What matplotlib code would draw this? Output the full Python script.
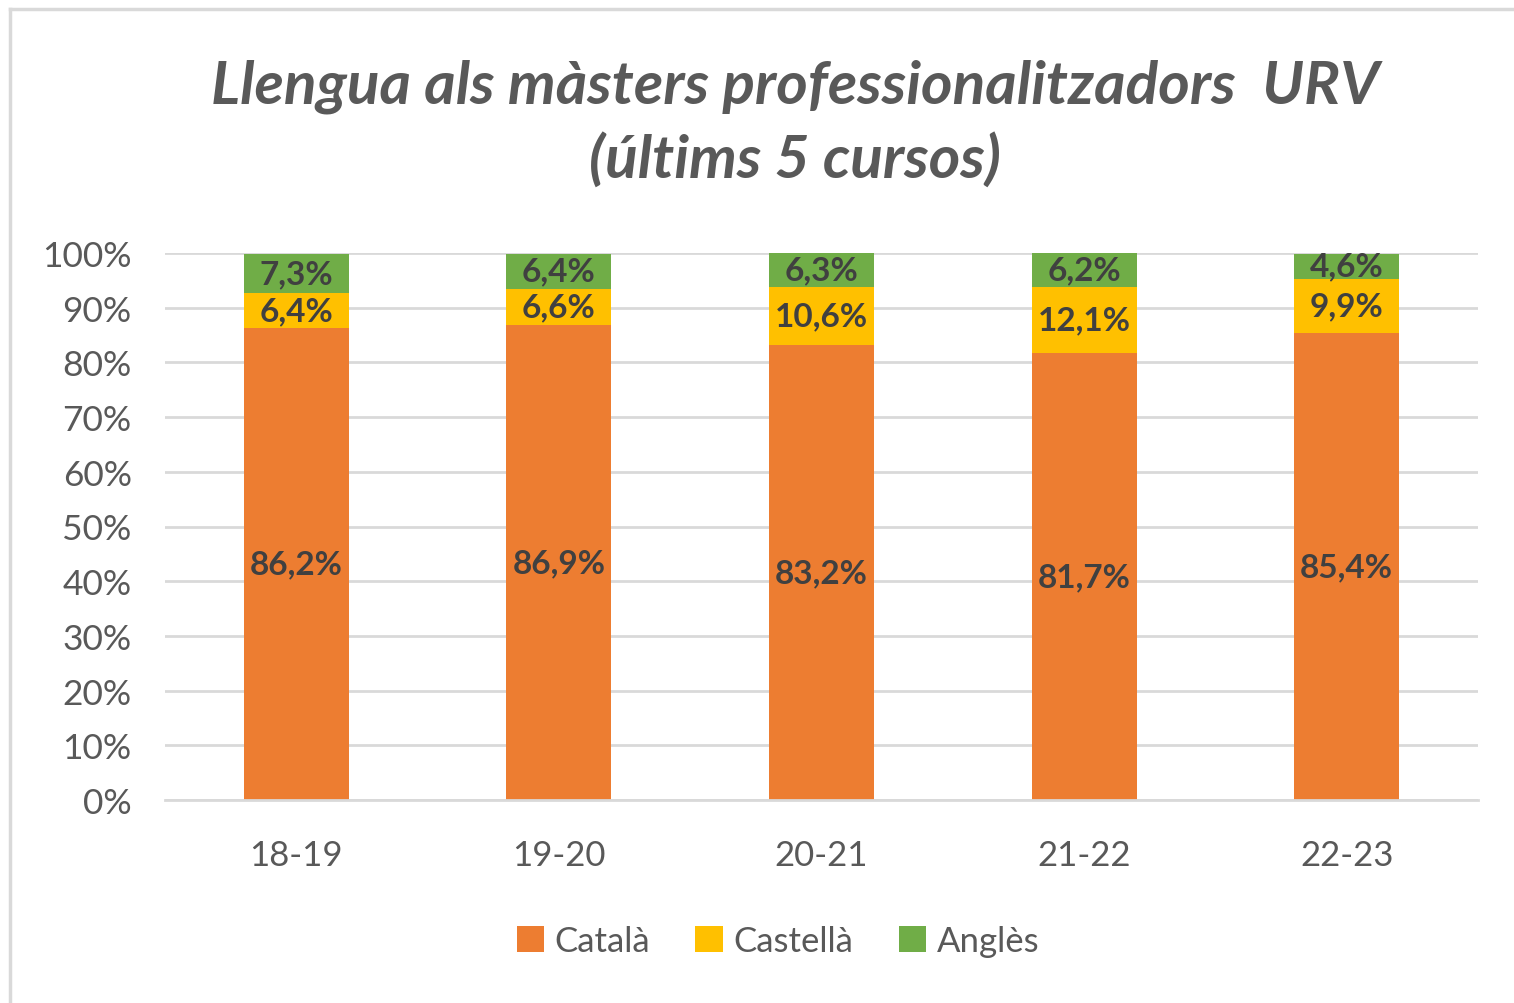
import matplotlib
matplotlib.use("Agg")
import matplotlib.pyplot as plt
from matplotlib.patches import Patch
from matplotlib.lines import Line2D

plt.rcParams['font.family'] = ['Lato', 'DejaVu Sans']

categories = ["18-19", "19-20", "20-21", "21-22", "22-23"]
catala = [86.2, 86.9, 83.2, 81.7, 85.4]
castella = [6.4, 6.6, 10.6, 12.1, 9.9]
angles = [7.3, 6.4, 6.3, 6.2, 4.6]
series_names = ["Català", "Castellà", "Anglès"]
colors = ["#ED7D31", "#FFC000", "#70AD47"]
yticks = [0, 10, 20, 30, 40, 50, 60, 70, 80, 90, 100]

W, H = 1514, 1004
fig = plt.figure(figsize=(W / 100, H / 100), dpi=100)
fig.patch.set_facecolor("white")

# chart frame (left and top edges visible)
fig.add_artist(Line2D([10 / W, 10 / W], [0, 1 - 10 / H], color="#D9D9D9", lw=2.5,
                      transform=fig.transFigure))
fig.add_artist(Line2D([10 / W, 1], [1 - 10 / H, 1 - 10 / H], color="#D9D9D9", lw=2.5,
                      transform=fig.transFigure))

ax = fig.add_axes([165 / W, (H - 801) / H, (1478 - 165) / W, (801 - 254) / H])
x = list(range(len(categories)))
bw = 0.4
bottoms = [0] * len(categories)
for name, vals, c in zip(series_names, [catala, castella, angles], colors):
    ax.bar(x, vals, bw, bottom=bottoms, color=c, label=name, zorder=3)
    for xi, v, b in zip(x, vals, bottoms):
        ax.text(xi, b + v / 2, f"{v:.1f}%".replace(".", ","), ha="center", va="center",
                fontsize=24, fontweight="bold", color="#404040", zorder=4)
    bottoms = [b + v for b, v in zip(bottoms, vals)]

ax.set_xlim(-0.5, len(categories) - 0.5)
ax.set_ylim(0, 100)
ax.set_yticks(yticks)
ax.set_yticklabels([f"{t}%" for t in yticks])
ax.set_xticks(x)
ax.set_xticklabels(categories)
ax.tick_params(axis="y", length=0, pad=24, labelsize=25.5, labelcolor="#595959")
ax.tick_params(axis="x", length=0, pad=28, labelsize=25, labelcolor="#595959")
ax.grid(axis="y", color="#D9D9D9", lw=2, zorder=0)
for s in ["top", "right", "left"]:
    ax.spines[s].set_visible(False)
ax.spines["bottom"].set_color("#D9D9D9")
ax.spines["bottom"].set_linewidth(2)
ax.spines["bottom"].set_zorder(5)

fig.text(795 / W, 1 - 87 / H, "Llengua als màsters professionalitzadors  URV",
         ha="center", va="center", fontsize=43.5, fontweight="bold", style="italic",
         color="#595959")
fig.text(795 / W, 1 - 160 / H, "(últims 5 cursos)",
         ha="center", va="center", fontsize=43.5, fontweight="bold", style="italic",
         color="#595959")

handles = [Patch(facecolor=c, edgecolor="none") for c in colors]
fig.legend(handles, series_names, loc="center", bbox_to_anchor=(778 / W, 1 - 942 / H),
           ncol=3, frameon=False, fontsize=25, labelcolor="#595959",
           handlelength=0.8, handleheight=0.8, handletextpad=0.3, columnspacing=1.3)

fig.savefig("out.png", dpi=100)
